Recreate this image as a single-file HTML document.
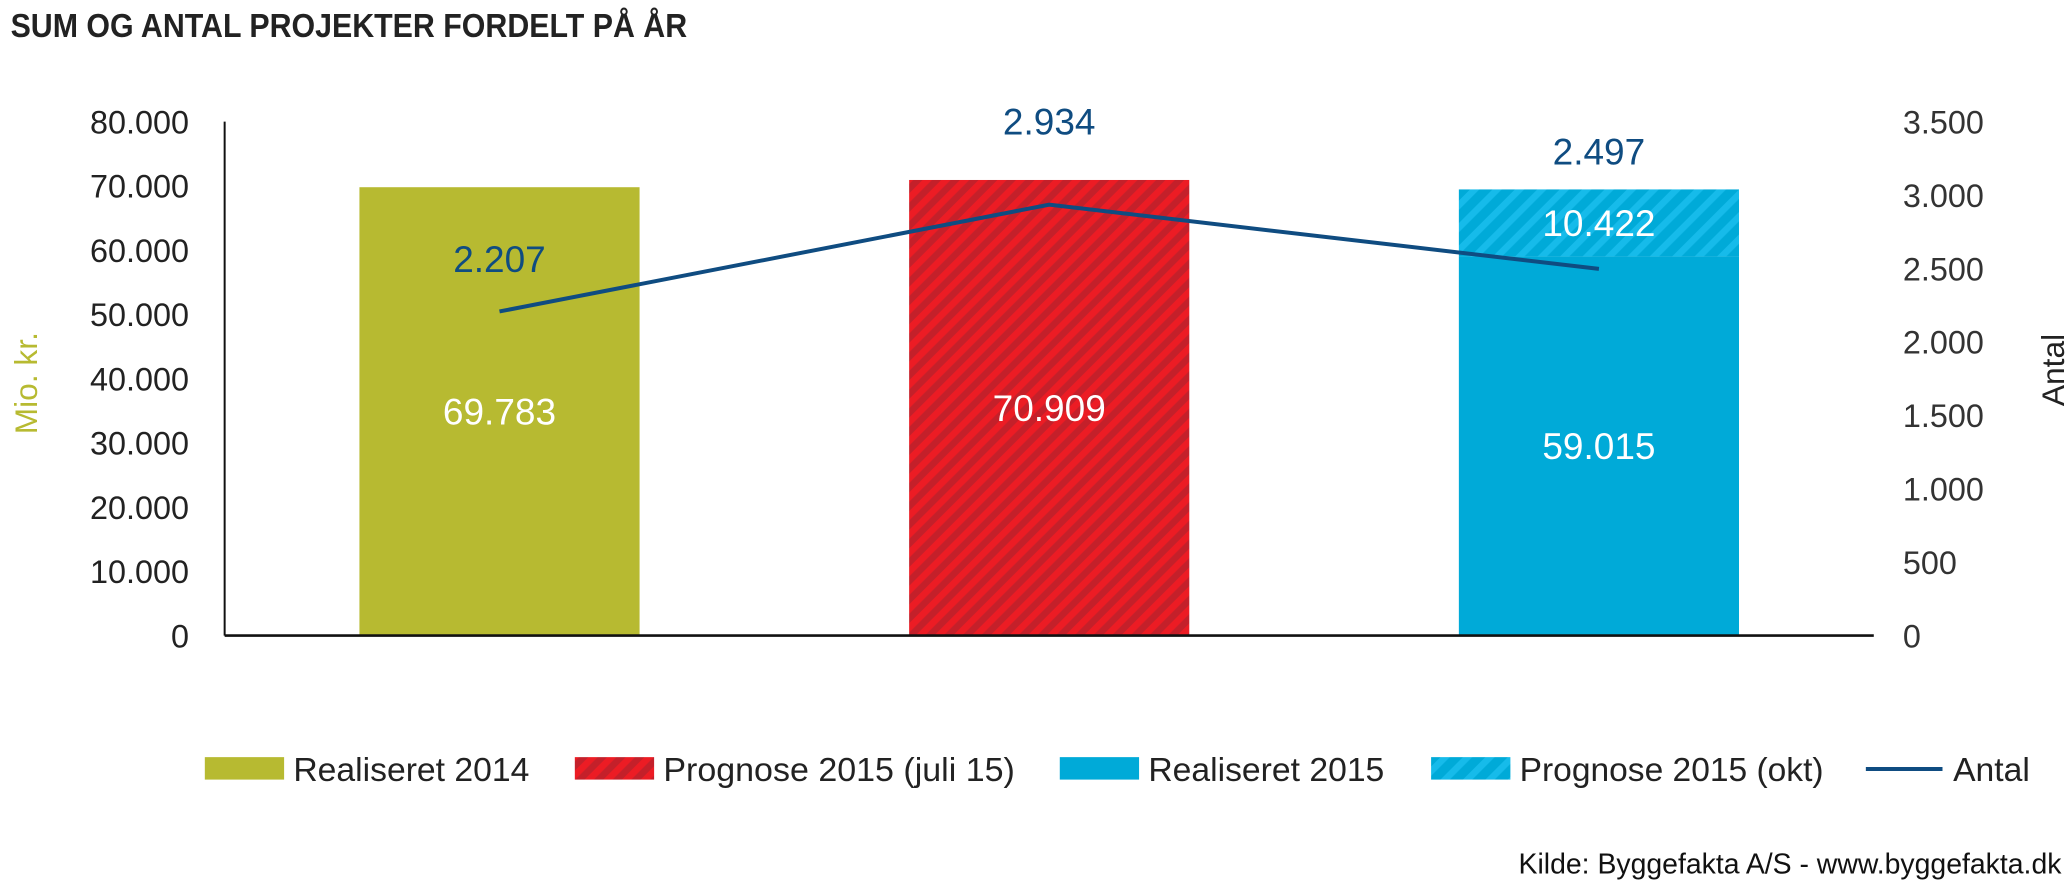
<!DOCTYPE html>
<html><head><meta charset="utf-8"><style>
html,body{margin:0;padding:0;background:#fff;}
svg{display:block;font-family:"Liberation Sans",sans-serif;}
</style></head><body>
<svg id="chart" width="2072" height="889" viewBox="0 0 1568 672.8" preserveAspectRatio="none" xmlns="http://www.w3.org/2000/svg">
<defs>
<pattern id="redHatch" patternUnits="userSpaceOnUse" width="10" height="10" patternTransform="rotate(45)">
<rect width="10" height="10" fill="#c4202a"/><rect width="5" height="10" fill="#ec1c24"/>
</pattern>
<pattern id="blueHatch" patternUnits="userSpaceOnUse" width="12" height="12" patternTransform="rotate(45)">
<rect width="12" height="12" fill="#00aad8"/><rect width="5" height="12" fill="#16bbea"/>
</pattern>
</defs>
<text x="8" y="28" font-size="25" font-weight="bold" fill="#222" textLength="512" lengthAdjust="spacingAndGlyphs">SUM OG ANTAL PROJEKTER FORDELT PÅ ÅR</text>
<g id="plot"></g>
<text transform="translate(28,290) rotate(-90)" text-anchor="middle" font-size="24" fill="#b7ba31">Mio. kr.</text>
<text transform="translate(1562,280) rotate(-90)" text-anchor="middle" font-size="24" fill="#222">Antal</text>
<g font-size="25.5" fill="#222">
<g><rect x="155" y="573" width="60" height="17" fill="#b7ba31"/><text x="222" y="591">Realiseret 2014</text></g>
<g><rect x="435" y="573" width="60" height="17" fill="url(#redHatch)"/><text x="502" y="591" textLength="266" lengthAdjust="spacingAndGlyphs">Prognose 2015 (juli 15)</text></g>
<g><rect x="802" y="573" width="60" height="17" fill="#00aad8"/><text x="869" y="591">Realiseret 2015</text></g>
<g><rect x="1083" y="573" width="60" height="17" fill="url(#blueHatch)"/><text x="1150" y="591" textLength="230" lengthAdjust="spacingAndGlyphs">Prognose 2015 (okt)</text></g>
<g><line x1="1412" y1="582" x2="1470" y2="582" stroke="#0f4c81" stroke-width="3"/><text x="1478" y="591">Antal</text></g>
</g>
<text x="1560" y="661" text-anchor="end" font-size="21.5" fill="#111">Kilde: Byggefakta A/S - www.byggefakta.dk</text>
</svg>
<script>
const categories = ["2014", "2015 juli", "2015 okt"];
const baseValues = [69783, 70909, 59015];
const forecastValues = [0, 0, 10422];
const countValues = [2207, 2934, 2497];
const leftTicks = [0, 10000, 20000, 30000, 40000, 50000, 60000, 70000, 80000];
const rightTicks = [0, 500, 1000, 1500, 2000, 2500, 3000, 3500];
const baseFills = ["#b7ba31", "url(#redHatch)", "#00aad8"];

const NS = "http://www.w3.org/2000/svg";
const g = document.getElementById("plot");
const x0 = 170, x1 = 1418, yBase = 481, yTop = 92;
const yL = v => yBase - v / 80000 * (yBase - yTop);
const yR = v => yBase - v / 3500 * (yBase - yTop);
const band = (x1 - x0) / categories.length;
const xC = i => x0 + band * (i + 0.5);
const bw = 212;
function mk(tag, attrs, txt) {
  const e = document.createElementNS(NS, tag);
  for (const k in attrs) e.setAttribute(k, attrs[k]);
  if (txt !== undefined) e.textContent = txt;
  g.appendChild(e);
  return e;
}
const fmtD = v => String(v).replace(/\B(?=(\d{3})+(?!\d))/g, ".");
leftTicks.forEach(t => {
  const e = mk("text", {x: 143, y: yL(t) + 9, "text-anchor": "end", "font-size": 24.5, fill: "#222"}, fmtD(t));
  
  
});
rightTicks.forEach(t => {
  const e = mk("text", {x: 1440, y: yR(t) + 9, "font-size": 24.5, fill: "#333"}, fmtD(t));
  
  
});
categories.forEach((c, i) => {
  const cx = xC(i);
  const b = mk("rect", {x: cx - bw / 2, y: yL(baseValues[i]), width: bw, height: yBase - yL(baseValues[i]), fill: baseFills[i]});
  
  
  const lb = mk("text", {x: cx, y: (yL(baseValues[i]) + yBase) / 2 + 10, "text-anchor": "middle", "font-size": 28, fill: "#fff"}, fmtD(baseValues[i]));
  
  
  if (forecastValues[i] > 0) {
    const top = baseValues[i] + forecastValues[i];
    const f = mk("rect", {x: cx - bw / 2, y: yL(top), width: bw, height: yL(baseValues[i]) - yL(top), fill: "url(#blueHatch)"});
    
    
    const fl = mk("text", {x: cx, y: (yL(top) + yL(baseValues[i])) / 2 + 10, "text-anchor": "middle", "font-size": 28, fill: "#fff"}, fmtD(forecastValues[i]));
    
    
  }
});
const ax = mk("line", {x1: x0, y1: yTop, x2: x0, y2: yBase, stroke: "#111", "stroke-width": 1.5});


const bx = mk("line", {x1: x0, y1: yBase, x2: x1, y2: yBase, stroke: "#111", "stroke-width": 2});


const pts = countValues.map((v, i) => xC(i) + "," + yR(v)).join(" ");
const ln = mk("polyline", {points: pts, fill: "none", stroke: "#0f4c81", "stroke-width": 3});


const labelOffsets = [-40, -63, -89];
countValues.forEach((v, i) => {
  const t = mk("text", {x: xC(i), y: yR(v) + labelOffsets[i] + 10, "text-anchor": "middle", "font-size": 28, fill: "#0f4c81"}, fmtD(v));
  
  
});
</script>
</body></html>
